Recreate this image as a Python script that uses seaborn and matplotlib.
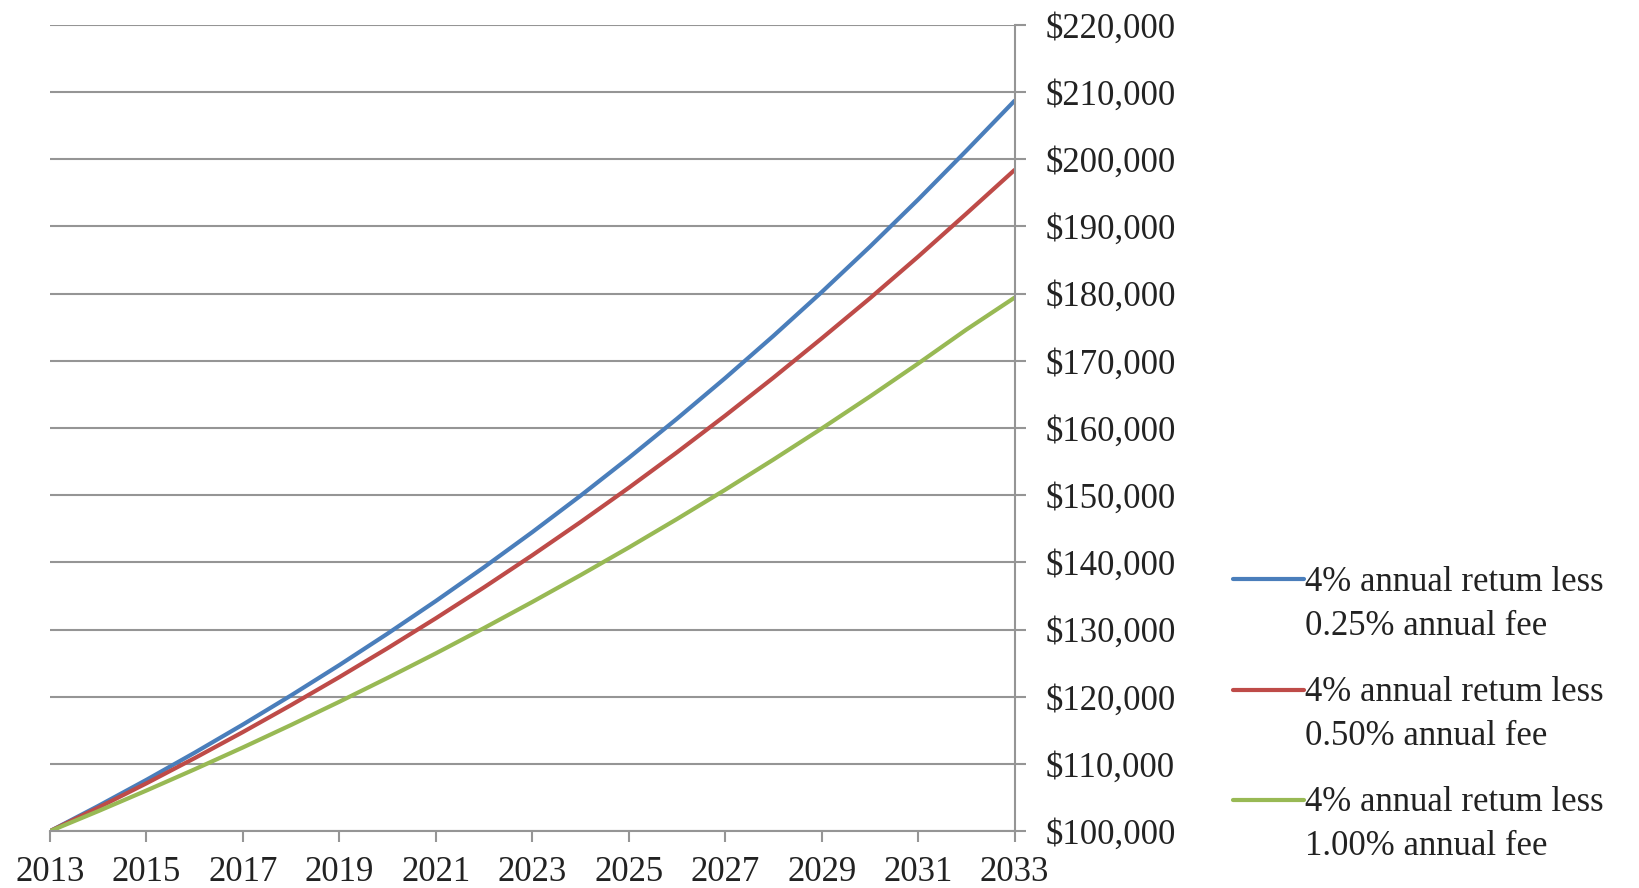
import numpy as np
import pandas as pd
import seaborn as sns
import matplotlib.pyplot as plt
import matplotlib as mpl
from matplotlib.ticker import FuncFormatter
from matplotlib.legend_handler import HandlerLine2D

# data
years = list(range(2013, 2034))
fee_025 = [100000, 103750, 107640, 111680, 115870, 120210, 124720, 129400, 134250, 139280, 144500,
           149920, 155550, 161380, 167430, 173710, 180220, 186980, 193990, 201270, 208700]
fee_050 = [100000, 103500, 107120, 110870, 114750, 118770, 122930, 127230, 131680, 136290, 141060,
           146000, 151100, 156380, 161840, 167490, 173330, 179300, 185500, 191900, 198400]
fee_100 = [100000, 102980, 106050, 109210, 112460, 115810, 119260, 122810, 126460, 130230, 134110,
           138100, 142210, 146450, 150810, 155300, 159920, 164680, 169590, 174640, 179400]
labels = ['4% annual retum less\n0.25% annual fee',
          '4% annual retum less\n0.50% annual fee',
          '4% annual retum less\n1.00% annual fee']
colors = ['#4A7EBB', '#BE4B48', '#98B954']

df = pd.concat([
    pd.DataFrame({'year': years, 'value': vals, 'series': lab})
    for vals, lab in zip([fee_025, fee_050, fee_100], labels)
])

sns.set_theme(style="white")
mpl.rcParams.update({
    'font.family': ['Liberation Serif', 'DejaVu Serif'],
    'font.size': 25,
})

LINESPACING = 1.45


# legend line sits on the first text line, like the original
class FirstLineHandler(HandlerLine2D):
    def create_artists(self, legend, orig_handle, xdescent, ydescent, width, height, fontsize, trans):
        arts = super().create_artists(legend, orig_handle, xdescent, ydescent, width, height, fontsize, trans)
        for a in arts:
            a.set_ydata(np.asarray(a.get_ydata()) + fontsize * LINESPACING / 2)
        return arts


fig = plt.figure(figsize=(16.39, 8.88), dpi=100)
ax = fig.add_axes([0.0305, 0.064, 0.5885, 0.908])

sns.lineplot(data=df, x='year', y='value', hue='series', hue_order=labels,
             palette=colors, linewidth=3, ax=ax, legend=False)

ax.set_xlim(2013, 2033)
ax.set_ylim(100000, 220000)
ax.set_xticks(range(2013, 2034, 2))
ax.set_yticks(range(100000, 220001, 10000))
ax.yaxis.set_major_formatter(FuncFormatter(lambda v, p: f'${v:,.0f}'))
ax.yaxis.tick_right()
ax.set_xlabel('')
ax.set_ylabel('')

grid_c = '#959595'
ax.grid(axis='y', color=grid_c, linewidth=1.5)
ax.grid(axis='x', visible=False)
ax.set_axisbelow(True)
for s in ['left', 'top']:
    ax.spines[s].set_visible(False)
for s in ['right', 'bottom']:
    ax.spines[s].set_color(grid_c)
    ax.spines[s].set_linewidth(1.5)
ax.tick_params(axis='y', which='major', length=8, width=1.5, color=grid_c,
               pad=14, labelsize=25, labelcolor='#222222', right=True, left=False)
ax.tick_params(axis='x', which='major', length=8, width=1.5, color=grid_c,
               pad=10, labelsize=25, labelcolor='#222222', bottom=True, direction='out')

handles = [mpl.lines.Line2D([], [], color=c, linewidth=3) for c in colors]
leg = fig.legend(handles, labels, loc='upper left', bbox_to_anchor=(0.752, 0.363),
                 frameon=False, fontsize=25, handlelength=2.05, handletextpad=0.05,
                 labelspacing=0.95, borderpad=0, borderaxespad=0,
                 handler_map={mpl.lines.Line2D: FirstLineHandler()})
for t in leg.get_texts():
    t.set_color('#222222')
    t.set_linespacing(LINESPACING)

fig.savefig('out.png', dpi=100)
